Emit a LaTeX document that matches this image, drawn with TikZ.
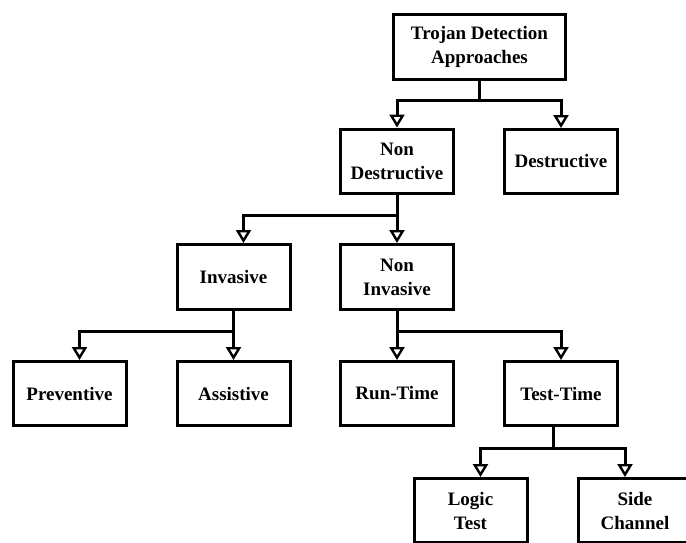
\documentclass[tikz,border=0pt]{standalone}
\usepackage{fontspec}
\setmainfont{Liberation Serif}
\usetikzlibrary{arrows.meta}
\tikzset{
  box/.style={draw, line width=3pt, minimum width=113pt, minimum height=64pt,
    inner sep=0pt, align=center, font=\fontsize{19}{24}\selectfont\bfseries},
  link/.style={line width=3pt},
  arr/.style={link, -{Triangle[open, length=13pt, width=15pt, line width=2.4pt, fill=white]}}
}
\begin{document}
\begin{tikzpicture}[x=1pt, y=-1pt]
  \useasboundingbox (0,0) rectangle (686,542);
  \clip (0,0) rectangle (686,542);

  % nodes of the tree
  \node[box, minimum width=172pt, minimum height=65pt] (top) at (479.5,47) {Trojan Detection\\Approaches};
  \node[box] (nd)   at (397,161)   {Non\\Destructive};
  \node[box] (d)    at (561,161.5) {Destructive};
  \node[box, minimum height=65pt] (inv) at (233.5,277) {Invasive};
  \node[box, minimum height=65pt] (ni)  at (397,277)   {Non\\Invasive};
  \node[box] (prev) at (69.5,393.5)  {Preventive};
  \node[box] (ass)  at (233.5,393.5) {Assistive};
  \node[box] (rt)   at (397,393.5)   {Run-Time};
  \node[box] (tt)   at (561,393.5)   {Test-Time};
  \node[box] (lt)   at (470.5,510.5) {Logic\\Test};
  \node[box] (sc)   at (635,510.5)   {Side\\Channel};

  % connectors
  \draw[arr] (top.south) -- ++(0,19) -| (nd.north);
  \draw[arr] (top.south) -- ++(0,19) -| (d.north);
  \draw[arr] (nd.south) -- ++(0,21) -| ([xshift=10pt]inv.north);
  \draw[arr] (nd.south) -- (ni.north);
  \draw[arr] (inv.south) -- ++(0,20) -| ([xshift=10pt]prev.north);
  \draw[arr] (inv.south) -- (ass.north);
  \draw[arr] (ni.south) -- (rt.north);
  \draw[arr] (ni.south) -- ++(0,20) -| (tt.north);
  \draw[arr] ([xshift=-8pt]tt.south) -- ++(0,21) -| ([xshift=10pt]lt.north);
  \draw[arr] ([xshift=-8pt]tt.south) -- ++(0,21) -| ([xshift=-10pt]sc.north);
\end{tikzpicture}
\end{document}
